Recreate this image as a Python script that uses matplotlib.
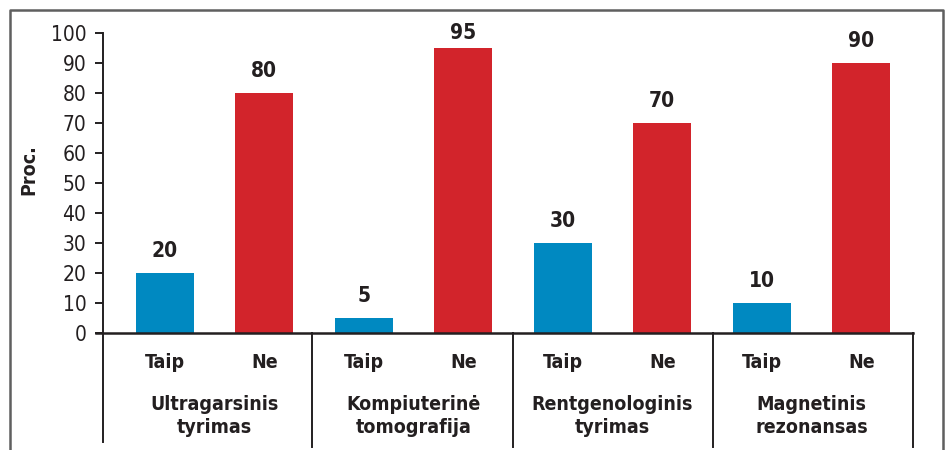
import matplotlib
matplotlib.use("Agg")
import matplotlib.pyplot as plt
import matplotlib.transforms as mtransforms

groups = ["Ultragarsinis\ntyrimas", "Kompiuterinė\ntomografija",
          "Rentgenologinis\ntyrimas", "Magnetinis\nrezonansas"]
answers = ["Taip", "Ne"]
taip_values = [20, 5, 30, 10]
ne_values = [80, 95, 70, 90]
yticks = [0, 10, 20, 30, 40, 50, 60, 70, 80, 90, 100]
ylabel = "Proc."

blue = "#0089c1"
red = "#d2242b"
ink = "#231f20"

plt.rcParams['font.family'] = ['DejaVu Sans']
plt.rcParams['font.stretch'] = 'condensed'

W, H = 949, 450
fig = plt.figure(figsize=(W / 100, H / 100), dpi=100)

fig.add_artist(plt.Line2D([10 / W, 10 / W, 943 / W, 943 / W],
                          [0, 1 - 9.5 / H, 1 - 9.5 / H, 0],
                          transform=fig.transFigure, color="#5f5f5f", lw=1.8))

ax = fig.add_axes([103 / W, 1 - 333 / H, (913 - 103) / W, 300 / H])
ax.set_ylim(0, 100)
ax.set_xlim(-0.62, 7.52)

xs_taip = [2 * i for i in range(len(groups))]
xs_ne = [2 * i + 1 for i in range(len(groups))]
bw = 0.58
ax.bar(xs_taip, taip_values, width=bw, color=blue, zorder=2)
ax.bar(xs_ne, ne_values, width=bw, color=red, zorder=2)

for x, v in zip(xs_taip + xs_ne, taip_values + ne_values):
    ax.text(x, min(v + 4, 96.8), str(v), ha="center", va="bottom", fontsize=15,
            fontweight="bold", color=ink, clip_on=False)

for s in ["top", "right", "bottom"]:
    ax.spines[s].set_visible(False)
ax.spines["left"].set_color(ink)
ax.spines["left"].set_linewidth(1.4)

ax.set_yticks(yticks)
ax.set_yticklabels([str(t) for t in yticks], fontsize=15, color=ink)
ax.tick_params(axis="y", length=6, width=1.4, color=ink, pad=6)
ax.set_xticks([])

trans = mtransforms.blended_transform_factory(ax.transData, ax.transAxes)
ax.plot([-0.62 - 7 / 99.5, 7.52], [0, 0], transform=trans, color=ink,
        lw=1.8, clip_on=False, zorder=3)
ax.plot([-0.62, -0.62], [0, -109 / 300], transform=trans, color=ink,
        lw=1.4, clip_on=False)
for xsep in [1.48, 3.5, 5.51, 7.52]:
    ax.plot([xsep, xsep], [0, -114 / 300], transform=trans, color=ink,
            lw=1.4, clip_on=False)

for x in xs_taip:
    ax.text(x, -30 / 300, answers[0], transform=trans, ha="center", va="center",
            fontsize=14, fontweight="bold", color=ink)
for x in xs_ne:
    ax.text(x, -30 / 300, answers[1], transform=trans, ha="center", va="center",
            fontsize=14, fontweight="bold", color=ink)
for i, g in enumerate(groups):
    ax.text(2 * i + 0.5, -83 / 300, g, transform=trans, ha="center", va="center",
            fontsize=14, fontweight="bold", color=ink, linespacing=1.3)

fig.text(29 / W, 1 - 170 / H, ylabel, rotation=90, ha="center", va="center",
         fontsize=14, fontweight="bold", color=ink)

fig.savefig("out.png", dpi=100)
